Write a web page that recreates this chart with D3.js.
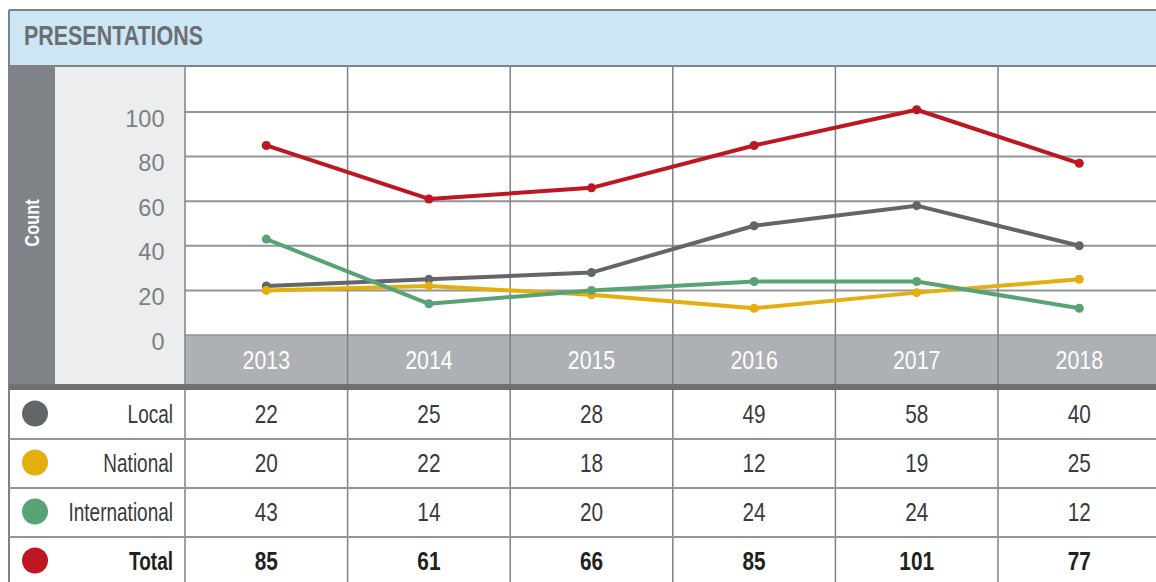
<!DOCTYPE html>
<html><head><meta charset="utf-8">
<script src="https://cdn.jsdelivr.net/npm/d3@7"></script>
<style>body{margin:0;background:#fff;}svg{display:block;}</style>
</head><body>
<script>
const title = "PRESENTATIONS";
const axisTitle = "Count";
const years = ["2013","2014","2015","2016","2017","2018"];
const seriesNames = ["Local","National","International","Total"];
const localVals = [22,25,28,49,58,40];
const nationalVals = [20,22,18,12,19,25];
const internationalVals = [43,14,20,24,24,12];
const totalVals = [85,61,66,85,101,77];
const yTicks = [0,20,40,60,80,100];
const colors = ["#636669","#e3ae0e","#58a375","#be1622"];

(function(){
const series = [localVals, nationalVals, internationalVals, totalVals];
const W = 1156, H = 582;
const svg = d3.select("body").append("svg").attr("width",W).attr("height",H);
const FONT = "'Liberation Sans', Arial, sans-serif";

const leftX = 9, topY = 10, headerB = 66;
const stripR = 55, axisR = 185;
const colW = 162.6;
const plotR = axisR + colW*years.length;
const bandT = 335, bandB = 384, sepB = 390;
const rowH = 49;

const x = d3.scaleBand().domain(years).range([axisR, plotR]);
const y = d3.scaleLinear().domain([0,100]).range([bandT, 112]);

// header
svg.append("rect").attr("x",leftX).attr("y",topY).attr("width",W-leftX).attr("height",headerB-topY)
  .attr("fill","#cce6f6");
svg.append("text").attr("x",24).attr("y",45).text(title)
  .attr("font-family",FONT).attr("font-weight","bold").attr("font-size",28)
  .attr("fill","#6d6e71").attr("textLength",179).attr("lengthAdjust","spacingAndGlyphs");

// left strip and axis panel
svg.append("rect").attr("x",leftX).attr("y",headerB).attr("width",stripR-leftX).attr("height",sepB-headerB).attr("fill","#808387");
svg.append("rect").attr("x",stripR).attr("y",headerB).attr("width",axisR-stripR).attr("height",bandB-headerB).attr("fill","#ecedef");
svg.append("text").attr("transform",`translate(38.5,${223}) rotate(-90) scale(0.78,1)`)
  .attr("text-anchor","middle").attr("font-family",FONT).attr("font-weight","bold")
  .attr("font-size",21).attr("fill","#fff").text(axisTitle);

// x band
svg.append("rect").attr("x",axisR).attr("y",bandT).attr("width",W-axisR).attr("height",bandB-bandT).attr("fill","#adb0b4");

// gridlines
svg.selectAll("line.h").data(yTicks.filter(d=>d>0)).join("line")
  .attr("x1",axisR).attr("x2",W).attr("y1",d=>y(d)).attr("y2",d=>y(d))
  .attr("stroke","#939598").attr("stroke-width",2);
svg.append("line").attr("x1",axisR).attr("x2",W).attr("y1",bandT).attr("y2",bandT).attr("stroke","#939598").attr("stroke-width",1.5);

// vertical lines (plot + table)
const vx = [axisR].concat(years.slice(1).map(d=>x(d)));
svg.selectAll("line.v").data(vx).join("line")
  .attr("x1",d=>d).attr("x2",d=>d).attr("y1",headerB).attr("y2",H)
  .attr("stroke","#808285").attr("stroke-width",1.5);

// borders
svg.append("line").attr("x1",leftX).attr("x2",W).attr("y1",topY).attr("y2",topY).attr("stroke","#808285").attr("stroke-width",2);
svg.append("line").attr("x1",leftX).attr("x2",W).attr("y1",headerB).attr("y2",headerB).attr("stroke","#808285").attr("stroke-width",2);
svg.append("line").attr("x1",leftX).attr("x2",leftX).attr("y1",topY).attr("y2",H).attr("stroke","#808285").attr("stroke-width",2);

// y tick labels
svg.selectAll("text.yt").data(yTicks).join("text")
  .attr("x",164.5).attr("y",d=>y(d)+14.5).attr("text-anchor","end")
  .attr("font-family",FONT).attr("font-size",23.5).attr("fill","#7d7f82").text(d=>d);

// year labels
svg.selectAll("text.yr").data(years).join("text")
  .attr("transform",d=>`translate(${x(d)+x.bandwidth()/2},369) scale(0.82,1)`)
  .attr("text-anchor","middle").attr("font-family",FONT).attr("font-size",26).attr("fill","#fff").text(d=>d);

// separator
svg.append("rect").attr("x",leftX).attr("y",bandB).attr("width",W-leftX).attr("height",sepB-bandB).attr("fill","#6d6f72");

// lines
const line = d3.line().x((d,i)=>x(years[i])+x.bandwidth()/2).y(d=>y(d));
series.forEach((s,k)=>{
  svg.append("path").attr("d",line(s)).attr("fill","none").attr("stroke",colors[k]).attr("stroke-width",4).attr("stroke-linejoin","round");
  svg.selectAll(null).data(s).join("circle")
    .attr("cx",(d,i)=>x(years[i])+x.bandwidth()/2).attr("cy",d=>y(d)).attr("r",4.5).attr("fill",colors[k]);
});

// table
series.forEach((s,k)=>{
  const r0 = sepB + k*rowH;
  if(k>0) svg.append("line").attr("x1",leftX).attr("x2",W).attr("y1",r0).attr("y2",r0).attr("stroke","#939598").attr("stroke-width",2);
  const cy = r0 + rowH/2;
  svg.append("circle").attr("cx",35).attr("cy",cy-1).attr("r",13).attr("fill",colors[k]);
  const bold = k===3;
  svg.append("text").attr("transform",`translate(173,${cy+8.5}) scale(0.76,1)`).attr("text-anchor","end")
    .attr("font-family",FONT).attr("font-size",25).attr("font-weight",bold?"bold":"normal")
    .attr("fill",bold?"#231f20":"#3a3a3c").text(seriesNames[k]);
  svg.selectAll(null).data(s).join("text")
    .attr("transform",(d,i)=>`translate(${x(years[i])+x.bandwidth()/2},${cy+8.5}) scale(0.8,1)`)
    .attr("text-anchor","middle").attr("font-family",FONT).attr("font-size",26).attr("font-weight",bold?"bold":"normal")
    .attr("fill",bold?"#231f20":"#3a3a3c").text(d=>d);
});
})();
</script>
</body></html>
